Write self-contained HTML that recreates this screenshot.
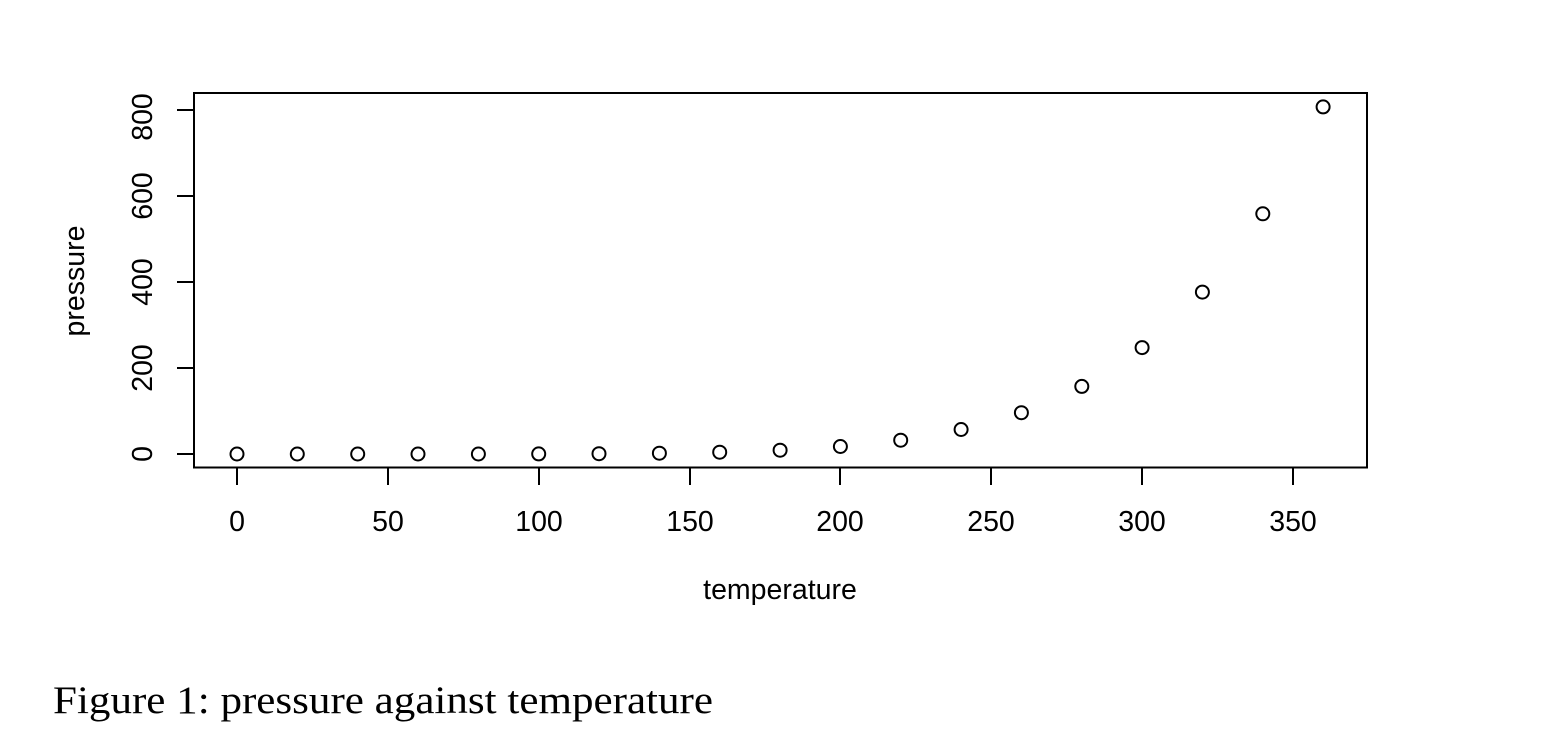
<!DOCTYPE html>
<html><head><style>body{margin:0;background:#fff}svg{display:block}</style></head><body>
<svg width="1548" height="740" xmlns="http://www.w3.org/2000/svg" font-family="Liberation Sans, sans-serif">
<rect x="194" y="93" width="1173" height="374.5" fill="none" stroke="#000" stroke-width="2"/>
<g stroke="#000" stroke-width="2">
<line x1="237" y1="467" x2="237" y2="485"/><line x1="388" y1="467" x2="388" y2="485"/><line x1="539" y1="467" x2="539" y2="485"/><line x1="690" y1="467" x2="690" y2="485"/><line x1="840" y1="467" x2="840" y2="485"/><line x1="991" y1="467" x2="991" y2="485"/><line x1="1142" y1="467" x2="1142" y2="485"/><line x1="1293" y1="467" x2="1293" y2="485"/>
<line x1="177" y1="454" x2="194" y2="454"/><line x1="177" y1="368" x2="194" y2="368"/><line x1="177" y1="282" x2="194" y2="282"/><line x1="177" y1="196" x2="194" y2="196"/><line x1="177" y1="110" x2="194" y2="110"/>
</g>
<g font-size="28.5" text-anchor="middle">
<text x="237" y="531">0</text><text x="388" y="531">50</text><text x="539" y="531">100</text><text x="690" y="531">150</text><text x="840" y="531">200</text><text x="991" y="531">250</text><text x="1142" y="531">300</text><text x="1293" y="531">350</text>
<text x="780" y="599">temperature</text>
<text transform="translate(152,454) rotate(-90)">0</text>
<text transform="translate(152,368) rotate(-90)">200</text>
<text transform="translate(152,282) rotate(-90)">400</text>
<text transform="translate(152,196) rotate(-90)">600</text>
<text transform="translate(152,117) rotate(-90)">800</text>
<text transform="translate(84,281) rotate(-90)">pressure</text>
</g>
<g fill="none" stroke="#000" stroke-width="2">
<circle cx="237" cy="454" r="6.5"/><circle cx="297.3" cy="454" r="6.5"/><circle cx="357.7" cy="454" r="6.5"/><circle cx="418" cy="454" r="6.5"/><circle cx="478.4" cy="454" r="6.5"/><circle cx="538.7" cy="453.9" r="6.5"/><circle cx="599" cy="453.7" r="6.5"/><circle cx="659.4" cy="453.2" r="6.5"/><circle cx="719.7" cy="452.2" r="6.5"/><circle cx="780.1" cy="450.2" r="6.5"/><circle cx="840.4" cy="446.5" r="6.5"/><circle cx="900.7" cy="440.2" r="6.5"/><circle cx="961.1" cy="429.5" r="6.5"/><circle cx="1021.4" cy="412.7" r="6.5"/><circle cx="1081.8" cy="386.4" r="6.5"/><circle cx="1142.1" cy="347.6" r="6.5"/><circle cx="1202.4" cy="292.1" r="6.5"/><circle cx="1262.8" cy="213.8" r="6.5"/><circle cx="1323.1" cy="106.9" r="6.5"/>
</g>
<text x="53" y="713" font-family="Liberation Serif, serif" font-size="39" textLength="660" lengthAdjust="spacingAndGlyphs">Figure 1: pressure against temperature</text>
</svg>
</body></html>
